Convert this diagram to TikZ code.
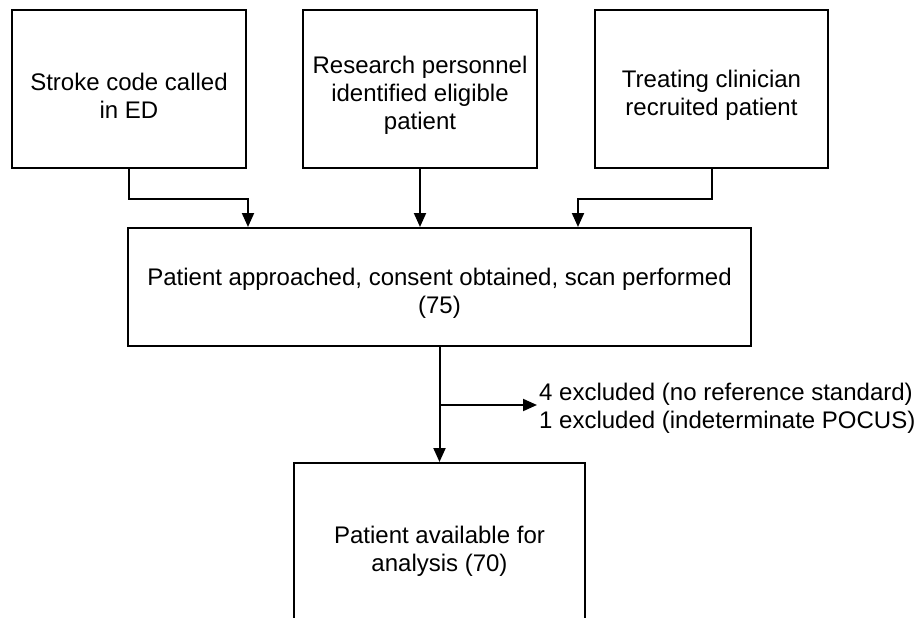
\documentclass[tikz,border=0pt]{standalone}
\usepackage{fontspec}
\setmainfont{Liberation Sans}
\usetikzlibrary{arrows.meta}
\newcommand{\tpad}{\rule{0pt}{30pt}}

\begin{document}
\begin{tikzpicture}[x=1pt,y=-1pt,
    flowbox/.style={draw,line width=2pt,align=center,inner sep=0pt},
    arr/.style={line width=2pt,-{Triangle[length=14pt,width=12pt]}},
    font=\fontsize{24}{28}\selectfont]
            \useasboundingbox (0,0) rectangle (918,618);
            \clip (0,0) rectangle (918,618);
            \node[flowbox,minimum width=234pt,minimum height=158pt] (code) at (129,89) {\tpad Stroke code called\\in ED};
            \node[flowbox,minimum width=234pt,minimum height=158pt] (research) at (420,89) {\tpad Research personnel\\identified eligible\\patient};
            \node[flowbox,minimum width=233pt,minimum height=158pt] (clinician) at (711.5,89) {\tpad Treating clinician\\recruited patient};
            \node[flowbox,minimum width=623pt,minimum height=118pt] (scan) at (439.5,287) {\tpad Patient approached, consent obtained, scan performed\\(75)};
            \node[flowbox,minimum width=291pt,minimum height=164pt] (analysis) at (439.5,545) {\tpad Patient available for\\analysis (70)};
            \node[align=left,anchor=west,inner sep=2pt] (excluded) at (537,408) {4 excluded (no reference standard)\\1 excluded (indeterminate POCUS)};
            \coordinate (split) at ([yshift=-58pt]scan.south);
            \draw[arr] (code.south) -- ++(0,30) -| ([xshift=-191.5pt]scan.north);
            \draw[arr] (research.south) -- (research.south |- scan.north);
            \draw[arr] (clinician.south) -- ++(0,30) -| ([xshift=138.5pt]scan.north);
            \draw[arr] (scan.south) -- (analysis.north);
            \draw[arr] (split) -- (split -| excluded.west);
        \end{tikzpicture}
\end{document}
